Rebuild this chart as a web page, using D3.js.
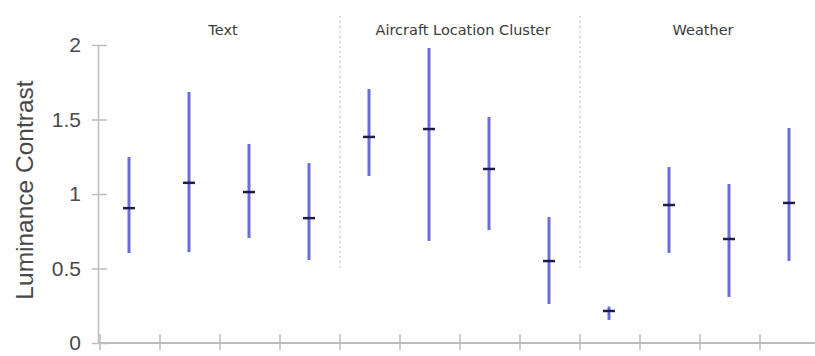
<!DOCTYPE html>
<html>
<head>
<meta charset="utf-8">
<script src="https://cdn.jsdelivr.net/npm/d3@7"></script>
<style>
  html, body { margin: 0; padding: 0; background: #fff; }
  svg { display: block; }
</style>
</head>
<body>
<svg id="chart" width="815" height="356"></svg>
<script>
// Conditions, grouped by display element type
const categories = ["Text A", "Text B", "Text C", "Text D",
                    "Aircraft A", "Aircraft B", "Aircraft C", "Aircraft D",
                    "Weather A", "Weather B", "Weather C", "Weather D"];
const groups = ["Text", "Aircraft Location Cluster", "Weather"];
const groupOf = [0, 0, 0, 0, 1, 1, 1, 1, 2, 2, 2, 2];
// Mean luminance contrast and range (low / high) per condition
const means = [0.905, 1.075, 1.013, 0.838, 1.383, 1.436, 1.168, 0.55, 0.215, 0.926, 0.698, 0.94];
const lows  = [0.604, 0.61, 0.705, 0.557, 1.121, 0.685, 0.758, 0.262, 0.155, 0.604, 0.309, 0.55];
const highs = [1.248, 1.685, 1.336, 1.208, 1.705, 1.98, 1.517, 0.846, 0.245, 1.181, 1.067, 1.443];
const yTicks = [0, 0.5, 1, 1.5, 2];
const yTitle = "Luminance Contrast";

const svg = d3.select("#chart");
const x = d3.scaleBand().domain(categories).range([100, 820]).padding(0);
const y = d3.scaleLinear().domain([0, 2]).range([343, 45]);
const axisX = 98;
const axisColor = "#bdbdbd";

// Y axis
const yAxis = d3.axisLeft(y).tickValues(yTicks).tickSize(0).tickPadding(17)
  .tickFormat(d3.format("~g"));
const gy = svg.append("g").attr("transform", `translate(${axisX},0)`).call(yAxis);
gy.select(".domain").attr("stroke", axisColor).attr("stroke-width", 1.5);
gy.selectAll(".tick text")
  .attr("fill", "#4a4a4a")
  .style("font-family", "'Liberation Sans', Arial, sans-serif")
  .style("font-size", "21px");
gy.selectAll(".tick").append("line")
  .attr("x1", -6).attr("x2", 9)
  .attr("stroke", axisColor).attr("stroke-width", 1.5);

// X axis baseline with ticks at category boundaries
svg.append("line")
  .attr("x1", axisX).attr("x2", 815)
  .attr("y1", y(0)).attr("y2", y(0))
  .attr("stroke", axisColor).attr("stroke-width", 2);
svg.append("g").selectAll("line").data(categories).join("line")
  .attr("x1", d => x(d)).attr("x2", d => x(d))
  .attr("y1", y(0) - 9).attr("y2", y(0) + 7)
  .attr("stroke", axisColor).attr("stroke-width", 1.5);

// Y title
svg.append("text")
  .attr("transform", `translate(33,${(y(0) + y(2)) / 2 - 4}) rotate(-90)`)
  .attr("text-anchor", "middle")
  .attr("fill", "#484848")
  .style("font-family", "'Liberation Sans', Arial, sans-serif")
  .style("font-size", "24.5px")
  .text(yTitle);

// Group separators and labels
const groupStart = gi => x(categories[groupOf.indexOf(gi)]);
const groupEnd = gi => x(categories[groupOf.lastIndexOf(gi)]) + x.bandwidth();
svg.append("g").selectAll("line").data(groups.slice(1)).join("line")
  .attr("x1", (d, i) => groupStart(i + 1)).attr("x2", (d, i) => groupStart(i + 1))
  .attr("y1", 16).attr("y2", 270)
  .attr("stroke", "#cfcfcf").attr("stroke-width", 1.5)
  .attr("stroke-dasharray", "2,3");
svg.append("g").selectAll("text").data(groups).join("text")
  .attr("x", (d, i) => (groupStart(i) + groupEnd(i)) / 2 + 3)
  .attr("y", 35)
  .attr("text-anchor", "middle")
  .attr("fill", "#3a3a3a")
  .style("font-family", "'DejaVu Sans', sans-serif")
  .style("font-size", "14.5px")
  .text(d => d);

// Range bars and mean markers
const cx = d => x(d) + x.bandwidth() / 2 - 1;
const marks = svg.append("g").selectAll("g").data(categories).join("g");
marks.append("line")
  .attr("x1", cx).attr("x2", cx)
  .attr("y1", (d, i) => y(highs[i])).attr("y2", (d, i) => y(lows[i]))
  .attr("stroke", "#6b6be0").attr("stroke-width", 3);
marks.append("line")
  .attr("x1", d => cx(d) - 6).attr("x2", d => cx(d) + 6)
  .attr("y1", (d, i) => y(means[i])).attr("y2", (d, i) => y(means[i]))
  .attr("stroke", "#1c1c4e").attr("stroke-width", 2.5);
</script>
</body>
</html>
